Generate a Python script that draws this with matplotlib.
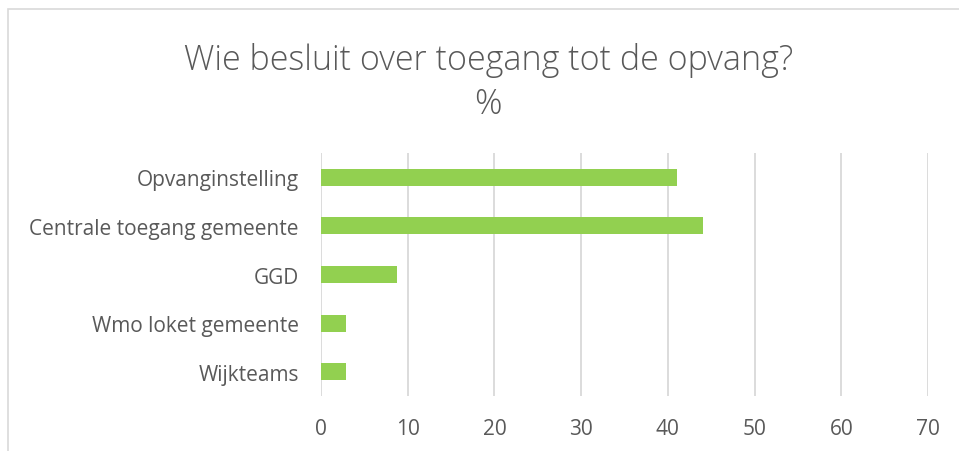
import matplotlib.pyplot as plt
from matplotlib.patches import Rectangle

categories = ["Opvanginstelling", "Centrale toegang gemeente", "GGD",
              "Wmo loket gemeente", "Wijkteams"]
values = [41.1, 44.1, 8.8, 2.9, 2.9]
xticks = [0, 10, 20, 30, 40, 50, 60, 70]

txt = '#595959'
plt.rcParams['font.family'] = ['Open Sans', 'DejaVu Sans']

fig = plt.figure(figsize=(9.59, 4.52), dpi=100)
ax = fig.add_axes([0.3347, 0.1217, 0.633, 0.5373])

pos = list(range(len(categories)))[::-1]
ax.barh(pos, values, height=0.35, color='#92D050', zorder=3)
ax.set_xlim(0, 70)
ax.set_ylim(-0.5, 4.5)
ax.set_xticks(xticks)
ax.set_yticks(pos)
ax.set_yticklabels(categories)
ax.grid(axis='x', color='#D9D9D9', linewidth=1.3, zorder=0)
for s in ax.spines.values():
    s.set_visible(False)
ax.tick_params(axis='both', length=0, colors=txt, labelsize=15)
ax.tick_params(axis='x', pad=16)
ax.tick_params(axis='y', pad=16)

fig.text(0.509, 0.866, "Wie besluit over toegang tot de opvang?", ha='center',
         va='center', fontsize=24.5, color=txt, fontweight='light')
fig.text(0.509, 0.768, "%", ha='center', va='center', fontsize=24.5, color=txt,
         fontweight='light')

fig.patches.append(Rectangle((0.0083, -0.1), 1.2, 1.078, transform=fig.transFigure,
                             fill=False, edgecolor='#D9D9D9', linewidth=1.2))

plt.savefig("out.png", dpi=100)
